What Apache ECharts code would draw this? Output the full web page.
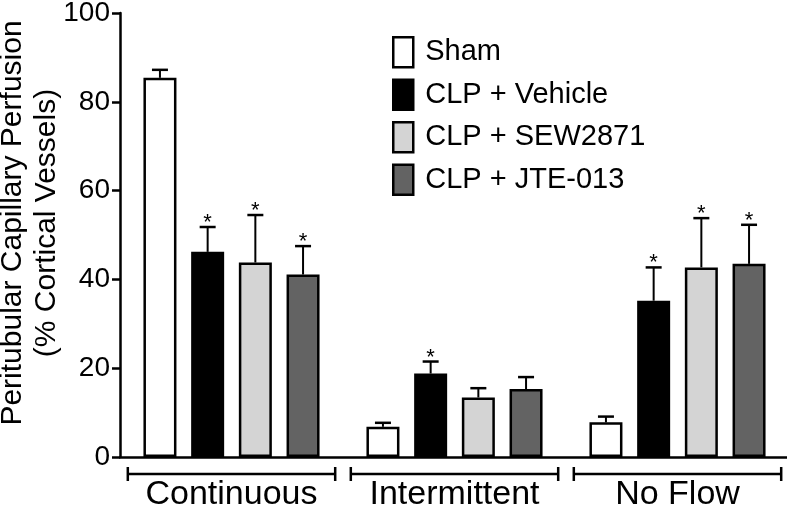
<!DOCTYPE html>
<html>
<head>
<meta charset="utf-8">
<script src="https://cdn.jsdelivr.net/npm/echarts@6/dist/echarts.min.js"></script>
<style>
html,body{margin:0;padding:0;background:#fff;}
#chart{width:787px;height:506px;}
</style>
</head>
<body>
<div id="chart"></div>
<script>
// ---- data ----
var categories = ['Continuous', 'Intermittent', 'No Flow'];
var seriesNames = ['Sham', 'CLP + Vehicle', 'CLP + SEW2871', 'CLP + JTE-013'];
var shamValues = [85.4, 6.8, 7.8];
var shamErrors = [1.8, 0.9, 1.3];
var shamStars = [0, 0, 0];
var vehicleValues = [46.2, 18.8, 35.2];
var vehicleErrors = [5.6, 2.7, 7.5];
var vehicleStars = [1, 1, 1];
var sewValues = [43.8, 13.4, 42.7];
var sewErrors = [10.7, 2.1, 11.1];
var sewStars = [1, 0, 1];
var jteValues = [41.1, 15.3, 43.5];
var jteErrors = [6.4, 2.7, 8.8];
var jteStars = [1, 0, 1];
var yTicks = [0, 20, 40, 60, 80, 100];
var yAxisTitle = 'Peritubular Capillary Perfusion\n(% Cortical Vessels)';

// ---- styles ----
var colors = ['#ffffff', '#000000', '#d4d4d4', '#636363'];
var FONT = '"Liberation Sans", Arial, Helvetica, sans-serif';
var BAR_W = 33;
var BAR_GAP_PX = 14.7;
var LW = 2.5;

var valueSets = [shamValues, vehicleValues, sewValues, jteValues];
var errorSets = [shamErrors, vehicleErrors, sewErrors, jteErrors];
var starSets = [shamStars, vehicleStars, sewStars, jteStars];

var chart = echarts.init(document.getElementById('chart'), null, {renderer: 'canvas'});

var series = [];
seriesNames.forEach(function (name, s) {
  series.push({
    name: name,
    type: 'bar',
    data: valueSets[s],
    barWidth: BAR_W,
    barGap: (BAR_GAP_PX / BAR_W * 100) + '%',
    itemStyle: {color: colors[s], borderColor: '#000', borderWidth: LW},
    emphasis: {disabled: true},
    z: 2
  });
});

seriesNames.forEach(function (name, s) {
  var data = valueSets[s].map(function (v, i) {
    return [i, v, errorSets[s][i], starSets[s][i]];
  });
  series.push({
    type: 'custom',
    name: name + ' err',
    data: data,
    z: 3,
    silent: true,
    renderItem: function (params, api) {
      var ci = api.value(0);
      var mean = api.value(1);
      var err = api.value(2);
      var star = api.value(3);
      var base = api.coord([ci, mean]);
      var top = api.coord([ci, mean + err]);
      var x = base[0] + (s - 1.5) * (BAR_W + BAR_GAP_PX);
      var children = [
        {type: 'line', shape: {x1: x, y1: base[1], x2: x, y2: top[1]}, style: {stroke: '#000', lineWidth: 2}},
        {type: 'line', shape: {x1: x - 8, y1: top[1], x2: x + 8, y2: top[1]}, style: {stroke: '#000', lineWidth: 2.5}}
      ];
      if (star) {
        children.push({type: 'text', style: {text: '*', x: x, y: top[1] - 4, align: 'center', verticalAlign: 'middle', fontSize: 22, fontFamily: FONT, fill: '#000'}});
      }
      return {type: 'group', children: children};
    }
  });
});

var option = {
  animation: false,
  backgroundColor: '#fff',
  textStyle: {fontFamily: FONT},
  grid: {left: 120, right: -2, top: 13, bottom: 49, containLabel: false, outerBoundsMode: 'none'},
  legend: {
    data: seriesNames,
    orient: 'vertical',
    left: 392,
    top: 36,
    padding: 0,
    itemWidth: 20,
    itemHeight: 30,
    itemGap: 10,
    icon: 'rect',
    selectedMode: false,
    itemStyle: {borderColor: '#000', borderWidth: LW},
    textStyle: {fontSize: 29, fontFamily: FONT, color: '#000', padding: [0, 0, 0, 7]}
  },
  xAxis: {
    type: 'category',
    data: categories,
    axisLine: {lineStyle: {color: '#000', width: LW}},
    axisTick: {show: false},
    axisLabel: {fontSize: 34, fontFamily: FONT, color: '#000', margin: 21, interval: 0, hideOverlap: false},
    splitLine: {show: false}
  },
  yAxis: {
    type: 'value',
    min: yTicks[0],
    max: yTicks[yTicks.length - 1],
    interval: yTicks[1] - yTicks[0],
    name: yAxisTitle,
    nameLocation: 'middle',
    nameGap: 56,
    nameMoveOverlap: false,
    nameRotate: 90,
    nameTextStyle: {fontSize: 30, fontFamily: FONT, color: '#000', lineHeight: 34, padding: [0, 0, 0, 24]},
    axisLine: {show: true, lineStyle: {color: '#000', width: LW}},
    axisTick: {show: true, length: 8, lineStyle: {color: '#000', width: LW}},
    axisLabel: {fontSize: 28, fontFamily: FONT, color: '#000', margin: 10},
    splitLine: {show: false}
  },
  series: series
};
chart.setOption(option);

// brackets under each category (decoration computed from the axis scale)
function drawBrackets() {
  var p0 = chart.convertToPixel({xAxisIndex: 0}, 0);
  var p1 = chart.convertToPixel({xAxisIndex: 0}, 1);
  var band = p1 - p0;
  var yBase = chart.convertToPixel({yAxisIndex: 0}, 0);
  var y = yBase + 17;
  var half = band * 0.465;
  var els = [];
  categories.forEach(function (c, i) {
    var cx = chart.convertToPixel({xAxisIndex: 0}, i);
    var xa = cx - half, xb = cx + half;
    els.push({type: 'line', silent: true, shape: {x1: xa, y1: y, x2: xb, y2: y}, style: {stroke: '#000', lineWidth: LW}});
    els.push({type: 'line', silent: true, shape: {x1: xa, y1: y - 7, x2: xa, y2: y + 7}, style: {stroke: '#000', lineWidth: LW}});
    els.push({type: 'line', silent: true, shape: {x1: xb, y1: y - 7, x2: xb, y2: y + 7}, style: {stroke: '#000', lineWidth: LW}});
  });
  chart.setOption({graphic: els});
}
drawBrackets();
</script>
</body>
</html>
